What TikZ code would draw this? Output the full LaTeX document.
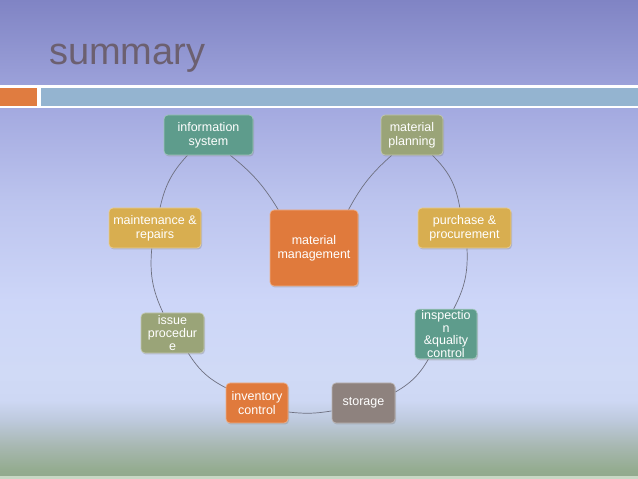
\documentclass[tikz,border=0pt]{standalone}
\usepackage{fontspec}
\setmainfont{Liberation Sans}
\usetikzlibrary{shadows}
\definecolor{cTeal}{RGB}{94,156,140}
\definecolor{cOlive}{RGB}{154,164,120}
\definecolor{cGold}{RGB}{216,174,80}
\definecolor{cOrange}{RGB}{224,122,60}
\definecolor{cGray}{RGB}{142,130,126}
\definecolor{cTitle}{RGB}{108,96,112}
\definecolor{cLine}{RGB}{110,112,128}
\definecolor{cBarO}{RGB}{224,124,64}
\definecolor{cBarB}{RGB}{148,180,208}
\definecolor{cFoot}{RGB}{200,216,196}
\pgfdeclareverticalshading{slidebg}{100bp}{%
 color(0bp)=(rgb,255:red,144;green,168;blue,140);
 color(25bp)=(rgb,255:red,144;green,168;blue,140);
 color(26bp)=(rgb,255:red,148;green,172;blue,144);
 color(28.5bp)=(rgb,255:red,168;green,184;blue,178);
 color(31.2bp)=(rgb,255:red,190;green,202;blue,222);
 color(33.25bp)=(rgb,255:red,206;green,216;blue,244);
 color(36bp)=(rgb,255:red,208;green,218;blue,246);
 color(43.5bp)=(rgb,255:red,205;green,214;blue,248);
 color(54bp)=(rgb,255:red,188;green,196;blue,238);
 color(63.5bp)=(rgb,255:red,164;green,170;blue,224);
 color(75bp)=(rgb,255:red,128;green,132;blue,196);
 color(100bp)=(rgb,255:red,128;green,132;blue,196)}
\pgfdeclarelayer{bglayer}
\pgfdeclarelayer{linelayer}
\pgfsetlayers{bglayer,linelayer,main}
\tikzset{
  box/.style={rounded corners=4pt, fill=#1, draw=#1!60!white, line width=0.7pt,
    text=white, align=center, inner sep=1pt,
    font=\fontsize{12.5}{14}\selectfont,
    drop shadow={opacity=0.35, shadow xshift=1pt, shadow yshift=-1.5pt}},
  tight/.style={font=\fontsize{12.5}{12.8}\selectfont},
  conn/.style={draw=cLine, line width=0.7pt}
}
\begin{document}
\begin{tikzpicture}[x=1pt,y=1pt]
\begin{pgfonlayer}{bglayer}
  \shade[shading=slidebg] (0,0) rectangle (638,479);
  \fill[cFoot] (0,0) rectangle (638,2.5);
  \fill[white] (0,370.5) rectangle (638,393.5);
  \fill[cBarO] (0,373) rectangle (37,391);
  \fill[cBarB] (41,373) rectangle (638,391);
\end{pgfonlayer}
\node[anchor=base west, inner sep=0pt, text=cTitle, font=\fontsize{38}{40}\selectfont] (title) at (49,414) {summary};

\node[box=cTeal, minimum width=89pt, minimum height=40pt] (info) at (208.5,344) {information\\system};
\node[box=cOlive, minimum width=62pt, minimum height=40pt] (plan) at (412,344) {material\\planning};
\node[box=cGold, minimum width=93pt, minimum height=40pt] (purch) at (464.5,251) {purchase \&\\procurement};
\node[box=cTeal, tight, minimum width=62pt, minimum height=40pt, text width=60pt] (insp) at (446,145) {inspectio\\n\\\&quality\\control};
\node[box=cGray, minimum width=63pt, minimum height=40pt] (stor) at (363.5,76) {storage};
\node[box=cOrange, minimum width=62pt, minimum height=40pt] (inv) at (257,76) {inventory\\control};
\node[box=cOlive, tight, minimum width=63pt, minimum height=40pt, text width=60pt] (issue) at (172.5,146) {issue\\procedur\\e};
\node[box=cGold, minimum width=92pt, minimum height=40pt] (maint) at (155,251) {maintenance \&\\repairs};
\node[box=cOrange, minimum width=88pt, minimum height=76pt] (mm) at (314,231) {material\\management};

\begin{pgfonlayer}{linelayer}
  \draw[conn] (info.-43) to[bend left=10] (mm.133);
  \draw[conn] (mm.48) to[bend left=10] (plan.-135);
  \draw[conn] (plan.-45) to[bend left=18] (purch.103);
  \draw[conn] (purch.-83) to[bend left=15] (insp.73);
  \draw[conn] (insp.-125) to[bend left=15] (stor.19);
  \draw[conn] (stor.194) to[bend left=8] (inv.-16);
  \draw[conn] (inv.154) to[bend left=15] (issue.-52);
  \draw[conn] (issue.115) to[bend left=15] (maint.-99);
  \draw[conn] (maint.76) to[bend left=15] (info.-136);
\end{pgfonlayer}
\end{tikzpicture}
\end{document}
